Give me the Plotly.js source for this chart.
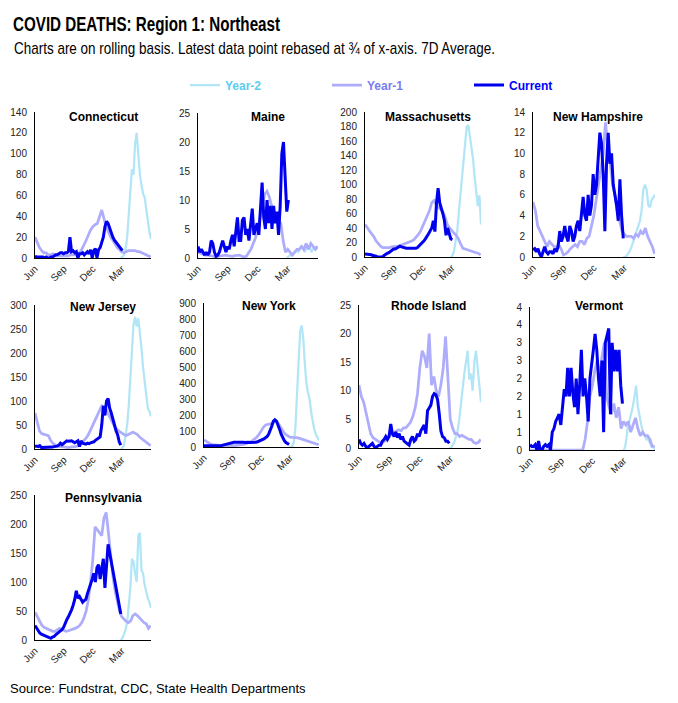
<!DOCTYPE html>
<html><head><meta charset="utf-8">
<script src="https://cdn.plot.ly/plotly-3.0.1.min.js"></script>
<style>html,body{margin:0;padding:0;background:#fff;} #chart{width:678px;height:703px;}</style>
</head><body><div id="chart"></div>
<script>
// ---- x-axis (day offsets in a rolling 1-year window starting in June) ----
const CUR_START = 0, CUR_STEP = 5;   // Current series sampling
const Y1_START = 0, Y1_STEP = 7;     // Year-1 series sampling
const Y2_START = 270, Y2_STEP = 5;   // Year-2 series sampling
const xTickDays = [0, 91, 182, 273];
const xTickLabels = ['Jun', 'Sep', 'Dec', 'Mar'];
const seriesNames = ['Year-2', 'Year-1', 'Current'];

// ---- Connecticut ----
const ct_cur = [2,1,1,1,1,1,0,1,0,0, 1,1,2,3,3,4,5,5,4,5, 5,6,20,6,7,5,6,0,4,4, 5,3,5,6,4,8,0,7,9,0, 8,10,15,20,30,35,33,28,25,20, 17,15,14,12,10,7];
const ct_y1 = [20,15,10,7,5,5,3,3,4,3, 2,2,2,2,2,2,3,3,3,4, 5,8,12,17,22,27,30,32,33,40, 46,38,30,25,20,17,13,10,8,6, 5,6,7,7,7,7,6,6,5,4, 3,2,1];
const ct_y2 = [0,1,3,8,20,40,65,85,80,110,120,95,80,70,62,58,45,35,25,18];
// ---- Maine ----
const me_cur = [2,1,1.5,1,0.5,1,0.5,1,3,2.5, 1,0.3,0.5,1,2,3,2,1,2,1.5, 3,4,2,4.5,7,3,3,6.5,7,4, 5,3,6,8.5,4,5,6,4,9,13, 7,5,10,6,9,5,9,6,8,4, 9,18,20,15,8,10];
const me_y1 = [1,0.8,0.6,0.5,0.5,0.4,0.3,0.3,0.2,0.3, 0.4,0.4,0.5,0.4,0.3,0.3,0.4,0.5,0.5,0.3, 0.2,0.3,0.8,1.5,2.5,3.5,5,7,9,11, 11.5,10.5,9,8,7,6.5,6,3,1,1.5, 1,0.5,1,1.5,1.5,2,1.5,2.5,1.5,2.5, 2,1.5,2];
const me_y2 = [0,0.2,0.5,0.5,0.8,1,1.2,1,1.5,2,1.5,1,2,1.5,2,1,1.5,2,1.5,2];
// ---- Massachusetts ----
const ma_cur = [4,4,3,3,3,2,2,1,0,0, 1,0,2,4,5,6,8,10,11,11, 12,14,15,14,13,13,12,12,12,11, 12,12,12,13,15,17,20,22,25,28, 32,36,40,50,35,75,95,75,68,60, 50,30,40,32,25,24];
const ma_y1 = [45,40,36,32,28,22,18,15,13,13, 12,13,14,14,15,15,16,17,18,19, 20,22,24,27,31,36,42,50,57,64, 75,78,72,68,66,62,55,45,40,36, 33,30,25,18,12,11,10,10,9,8, 7,5,3];
const ma_y2 = [0,2,8,20,35,60,85,110,140,165,180,182,168,150,135,110,85,70,85,45];
// ---- New Hampshire ----
const nh_cur = [0.7,0.8,0.5,0.8,0.3,0,0.5,1,0.5,0.3, 0.5,0.5,0.3,0.8,0.5,1,2.5,1.5,2,3, 2,1.5,3,2.5,1.5,2,3,3.5,2.5,4, 5.8,4,3.5,6,4,5,8,6,7,9.5, 12,11,8,2.5,9,12,9,10,7,6, 5,3.5,7.5,4,1.8];
const nh_y1 = [5.3,4.5,3,2.5,2,1.5,1,1.5,1.2,1, 1,1.2,0.8,0.2,0.3,0.5,0.8,1,1.2,1, 1.5,1.5,1.2,1.8,2,3,4,5.5,7,8.5, 10,13,10.5,9,7,6,4.5,3.5,2.5,2.2, 2,2,2,1.8,2.2,2,2.5,2.2,2.8,2, 1.5,1,0.3];
const nh_y2 = [0,0,0.1,0.3,0.6,1,1.5,2,2.5,3,3.5,4.5,6.5,7,6.5,5,4.8,5.5,5.8,6];
// ---- New Jersey ----
const nj_cur = [5,6,5,7,3,3,3,3,3,3, 4,4,5,5,6,8,12,9,12,15, 17,16,17,17,15,13,15,17,5,17, 12,11,10,12,11,13,14,15,18,20, 23,25,50,90,70,100,105,85,75,62, 50,38,30,15,8];
const nj_y1 = [75,55,38,32,31,30,28,18,12,9, 7,5,5,4,3,3,4,4,5,6, 8,12,17,23,30,40,52,62,70,82, 90,88,82,72,62,52,45,40,36,32, 30,28,30,32,35,33,30,25,21,18, 15,11,7];
const nj_y2 = [0,2,8,25,50,90,140,210,260,275,255,272,245,210,170,140,110,85,78,68];
// ---- New York ----
const ny_cur = [8,8,7,6,6,5,5,5,5,5, 6,8,12,15,18,22,25,28,28,30, 30,28,30,29,31,30,28,30,29,28, 28,27,28,30,33,37,40,45,50,58, 65,80,100,130,160,170,162,140,110,80, 55,40,28,20,15];
const ny_y1 = [45,35,25,18,15,12,11,10,9,8, 8,8,8,8,9,10,12,14,17,20, 25,32,40,50,62,80,105,125,138,140, 142,148,158,160,140,115,95,78,68,62, 60,60,58,55,50,45,40,35,30,25, 20,17,14];
const ny_y2 = [0,0,5,30,120,300,550,720,760,680,520,400,340,300,220,160,110,80,55,40];
// ---- Rhode Island ----
const ri_cur = [1.5,0.8,0.5,0.8,0.3,0,0.3,0.5,0.8,0.3, 0,0.3,0.5,0.5,1.2,1.5,2,1.5,2,4.2, 2.5,2,2.8,1.8,2.5,1.5,2,1.2,1,0.8, 0.5,1.5,2,1.2,1.5,2.5,2,3,3.5,4, 2.5,6.5,7,7.5,9,9.5,9.3,8.5,6,3, 2,1.8,1.2,1.2,0.8];
const ri_y1 = [11,9,8,6,4,2.5,1.8,1.5,1.2,1, 1,1.2,1.8,2.2,2.5,2.5,3,3.2,3,3.5, 3.5,4,4.5,5.5,7,9.5,14,17,16,14, 20,11,12.5,10,9,11,14,19.5,12,5, 3.5,2.5,2.5,2,2.2,2,1.8,1.5,1.5,1, 0.8,1,1.5];
const ri_y2 = [0,0,0.5,1,2,3,5,8,10,13,15,17,12,13,10,15,17,14,11,8];
// ---- Vermont ----
const vt_cur = [0.15,0.1,0.1,0.15,0,0.25,0,0,0.1,0.15, 0.1,0.15,0,0.5,0.6,0.8,0.9,1,0.7,1.2, 1.7,1.5,2.3,1.5,2.3,1.6,1.2,2,1,1.8, 2.8,1.5,2,1.5,0.8,2,2.5,2.8,3.25,2.8, 2,1.5,2.5,0.5,3,3.2,3.4,1,3,2.2, 2.8,2.2,2.8,1.8,1.3];
const vt_y1 = [0,0,0,0,0,0,0,0,0,0, 0,0,0,0,0,0,0,0,0,0, 0,0,0,0.3,0.8,1.5,1.8,2.2,2.5,2, 2.6,3,1.5,1.2,1,1.3,0.9,1.2,0.6,0.8, 0.7,0.8,0.5,0.7,0.9,0.6,0.4,0.5,0.4,0.4, 0.3,0.1,0.1];
const vt_y2 = [0,0,0.2,0.6,0.8,1,1.2,1.5,1.8,1.2,0.9,0.7,0.5,0.4,0.3,0.3,0.2,0.1,0.1,0];
const vt_tickvals = [0,0.5,1,1.5,2,2.5,3,3.5,4];
const vt_ticktext = ['0','1','1','2','2','3','3','4','4'];
// ---- Pennsylvania ----
const pa_cur = [25,20,15,12,10,9,8,7,5,4, 3,5,6,9,11,14,15,18,22,30, 35,40,45,52,60,70,85,72,75,70, 65,68,70,80,88,95,105,115,100,125, 130,105,125,140,90,125,165,150,135,115, 100,85,70,58,45];
const pa_y1 = [48,40,32,26,22,20,18,16,15,15, 17,20,18,16,15,16,17,18,20,22, 25,30,38,50,70,100,140,195,190,185, 180,210,220,185,145,110,85,65,50,40, 35,32,30,33,42,45,42,38,35,30, 28,20,25];
const pa_y2 = [0,3,10,18,30,55,90,140,135,115,100,180,185,120,115,95,80,72,65,55];

// ---- panel layout (pixel boxes: left, right, top, bottom) ----
const W = 678, H = 703;
const panels = [
  {title:'Connecticut',   cur:ct_cur, y1:ct_y1, y2:ct_y2, ymax:140, dtick:20,  box:[35,151,112,258], tx:103, ty:117},
  {title:'Maine',         cur:me_cur, y1:me_y1, y2:me_y2, ymax:25,  dtick:5,   box:[198,318,113,258], tx:268, ty:117},
  {title:'Massachusetts', cur:ma_cur, y1:ma_y1, y2:ma_y2, ymax:200, dtick:20,  box:[365,481,112,257], tx:428, ty:117},
  {title:'New Hampshire', cur:nh_cur, y1:nh_y1, y2:nh_y2, ymax:14,  dtick:2,   box:[533,655,112,257], tx:598, ty:117},
  {title:'New Jersey',    cur:nj_cur, y1:nj_y1, y2:nj_y2, ymax:300, dtick:50,  box:[35,151,305,449], tx:103, ty:307},
  {title:'New York',      cur:ny_cur, y1:ny_y1, y2:ny_y2, ymax:900, dtick:100, box:[204,319,303,447], tx:269, ty:306},
  {title:'Rhode Island',  cur:ri_cur, y1:ri_y1, y2:ri_y2, ymax:25,  dtick:5,   box:[359,481,305,448], tx:428, ty:306},
  {title:'Vermont',       cur:vt_cur, y1:vt_y1, y2:vt_y2, ymax:4,   tickvals:vt_tickvals, ticktext:vt_ticktext, box:[530,655,307,450], tx:599, ty:306},
  {title:'Pennsylvania',  cur:pa_cur, y1:pa_y1, y2:pa_y2, ymax:250, dtick:50,  box:[35,151,495,640], tx:103, ty:498}
];

const FONT = 'Liberation Sans, Arial, sans-serif';
const COL_Y2 = '#b2e6f7', COL_Y1 = '#adadfb', COL_CUR = '#0000ee';
const legendNames = [
  '<span style="color:#5ccdf0">' + seriesNames[0] + '</span>',
  '<span style="color:#7c7cf2">' + seriesNames[1] + '</span>',
  '<span style="color:#0000ff">' + seriesNames[2] + '</span>'
];
// condensed header text (reference uses a narrow face): target rendered widths in px
const TITLE_WIDTH = 267, SUBTITLE_WIDTH = 481;

function xs(n, start, step) { return Array.from({length:n}, (_, i) => start + i * step); }

const traces = [];
const layout = {
  width: W, height: H,
  margin: {l:0, r:0, t:0, b:0},
  paper_bgcolor: '#fff', plot_bgcolor: '#fff',
  font: {family: FONT, size: 10, color: '#222'},
  title: {
    text: 'COVID DEATHS: Region 1: Northeast',
    font: {family: FONT, size: 20, color: '#000', weight: 'bold'},
    xref: 'paper', yref: 'paper', x: 13 / W, xanchor: 'left', y: 1 - 24 / H, yanchor: 'middle'
  },
  showlegend: true,
  legend: {
    orientation: 'h', x: 185 / W, xanchor: 'left', y: 1 - 85 / H, yanchor: 'middle',
    font: {family: FONT, size: 12, weight: 'bold'},
    entrywidth: 97, entrywidthmode: 'pixels', itemwidth: 30,
    bgcolor: 'rgba(0,0,0,0)', traceorder: 'normal'
  },
  annotations: [
    {text: 'Charts are on rolling basis. Latest data point rebased at ¾ of x-axis. 7D Average.',
     xref: 'paper', yref: 'paper', x: 12 / W, xanchor: 'left', y: 1 - 48 / H, yanchor: 'middle',
     showarrow: false, font: {family: FONT, size: 17, color: '#000'}},
    {text: 'Source: Fundstrat, CDC, State Health Departments',
     xref: 'paper', yref: 'paper', x: 8 / W, xanchor: 'left', y: 1 - 688 / H, yanchor: 'middle',
     showarrow: false, font: {family: FONT, size: 13, color: '#000'}}
  ]
};

panels.forEach((p, i) => {
  const s = i === 0 ? '' : String(i + 1);
  const [l, r, t, b] = p.box;
  const common = {xaxis: 'x' + s, yaxis: 'y' + s, mode: 'lines', hoverinfo: 'skip'};
  traces.push(Object.assign({}, common, {x: xs(p.y2.length, Y2_START, Y2_STEP), y: p.y2, name: legendNames[0], line: {color: COL_Y2, width: 2.25}, showlegend: i === 0, legendgroup: 'y2'}));
  traces.push(Object.assign({}, common, {x: xs(p.y1.length, Y1_START, Y1_STEP), y: p.y1, name: legendNames[1], line: {color: COL_Y1, width: 2.75}, showlegend: i === 0, legendgroup: 'y1'}));
  traces.push(Object.assign({}, common, {x: xs(p.cur.length, CUR_START, CUR_STEP), y: p.cur, name: legendNames[2], line: {color: COL_CUR, width: 3}, showlegend: i === 0, legendgroup: 'cur'}));

  layout['xaxis' + s] = {
    domain: [l / W, r / W], anchor: 'y' + s, range: [0, 365],
    tickvals: xTickDays, ticktext: xTickLabels, tickangle: -45,
    tickfont: {family: FONT, size: 10, color: '#222'},
    showline: true, linecolor: '#000', linewidth: 1, showgrid: false, zeroline: false, ticks: '', fixedrange: true
  };
  const ya = {
    domain: [1 - b / H, 1 - t / H], anchor: 'x' + s, range: [0, p.ymax],
    tickfont: {family: FONT, size: 10, color: '#222'},
    showline: true, linecolor: '#000', linewidth: 1, showgrid: false, zeroline: false,
    ticks: '', ticklabelstandoff: 5, fixedrange: true
  };
  if (p.tickvals) { ya.tickmode = 'array'; ya.tickvals = p.tickvals; ya.ticktext = p.ticktext; }
  else { ya.tickmode = 'linear'; ya.tick0 = 0; ya.dtick = p.dtick; }
  layout['yaxis' + s] = ya;

  layout.annotations.push({
    text: '<b>' + p.title + '</b>', xref: 'paper', yref: 'paper',
    x: p.tx / W, xanchor: 'center', y: 1 - p.ty / H, yanchor: 'middle',
    showarrow: false, font: {family: FONT, size: 12, color: '#000'}
  });
});

function condense(el, width) {
  // keep the left edge fixed while squeezing the text to the reference's condensed width
  const bb = el.getBBox();
  el.setAttribute('text-anchor', 'start');
  el.setAttribute('x', bb.x);
  el.setAttribute('textLength', width);
  el.setAttribute('lengthAdjust', 'spacingAndGlyphs');
}

Plotly.newPlot('chart', traces, layout, {staticPlot: true, displayModeBar: false}).then(gd => {
  const t = gd.querySelector('.gtitle');
  if (t) condense(t, TITLE_WIDTH);
  const a = gd.querySelector('.annotation[data-index="0"] .annotation-text');
  if (a) condense(a, SUBTITLE_WIDTH);
});
</script>
</body></html>
